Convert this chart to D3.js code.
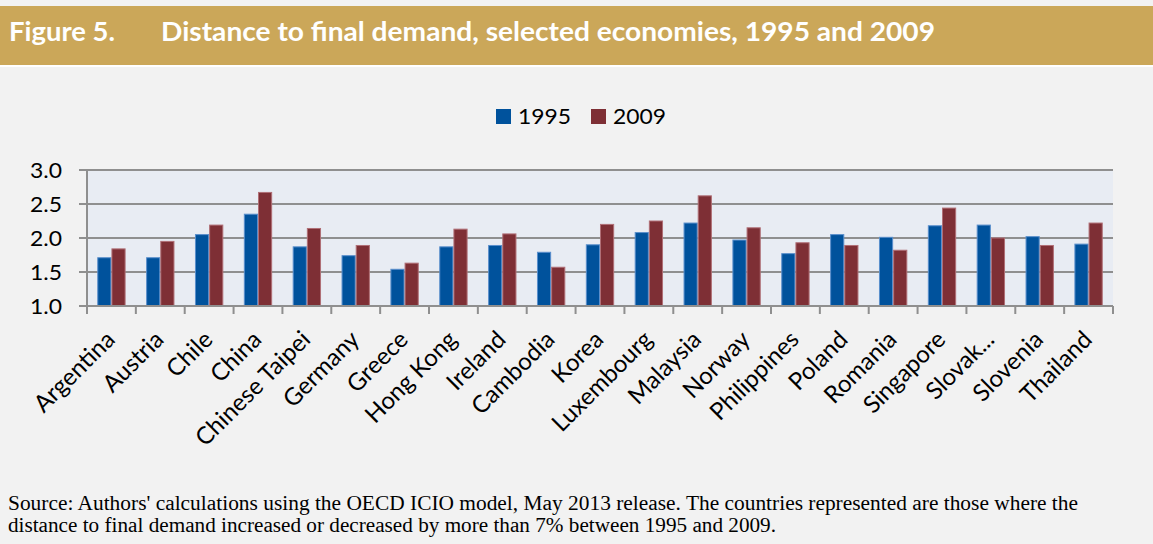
<!DOCTYPE html>
<html>
<head>
<meta charset="utf-8">
<script src="https://cdn.jsdelivr.net/npm/d3@7"></script>
<style>
  html, body { margin: 0; padding: 0; background: #f2f2f2; }
  svg { display: block; }
</style>
</head>
<body>
<div id="chart"></div>
<script>
// data
var economies = ['Argentina', 'Austria', 'Chile', 'China', 'Chinese Taipei', 'Germany', 'Greece',
    'Hong Kong', 'Ireland', 'Cambodia', 'Korea', 'Luxembourg', 'Malaysia', 'Norway',
    'Philippines', 'Poland', 'Romania', 'Singapore', 'Slovak...', 'Slovenia', 'Thailand'];
var years = ['1995', '2009'];
var values1995 = [1.71, 1.71, 2.05, 2.35, 1.87, 1.74, 1.54, 1.87, 1.89, 1.79, 1.90,
    2.08, 2.22, 1.97, 1.77, 2.05, 2.01, 2.18, 2.19, 2.02, 1.91];
var values2009 = [1.84, 1.95, 2.19, 2.67, 2.14, 1.89, 1.63, 2.13, 2.06, 1.57, 2.20,
    2.25, 2.62, 2.15, 1.93, 1.89, 1.82, 2.44, 2.00, 1.89, 2.22];
var yTicks = [1.0, 1.5, 2.0, 2.5, 3.0];

var title1 = 'Figure 5.';
var title2 = 'Distance to final demand, selected economies, 1995 and 2009';
var note1 = "Source: Authors' calculations using the OECD ICIO model, May 2013 release. The countries represented are those where the";
var note2 = 'distance to final demand increased or decreased by more than 7% between 1995 and 2009.';

var width = 1153;
var height = 544;

var plot_left = 87;
var plot_right = 1113;
var plot_top = 170;
var plot_bottom = 306;

var colors = ['#00529c', '#7e2f35'];
var strokes = ['#5a8fcc', '#b06f76'];
var sans = 'Lato, "Open Sans", sans-serif';

var svg = d3.select('#chart')
  .append('svg')
    .attr('width', width)
    .attr('height', height);

svg.append('rect')
    .attr('width', width)
    .attr('height', height)
    .attr('fill', '#f2f2f2');

// header band
svg.append('rect')
    .attr('x', 0)
    .attr('y', 6)
    .attr('width', width)
    .attr('height', 59)
    .attr('fill', '#cba759');
svg.append('rect')
    .attr('x', 0)
    .attr('y', 65)
    .attr('width', width)
    .attr('height', 2)
    .attr('fill', '#ffffff');

svg.append('text')
    .text(title1)
    .attr('x', 9)
    .attr('y', 41)
    .attr('fill', '#ffffff')
    .attr('font-family', sans)
    .attr('font-weight', 'bold')
    .attr('font-size', '27px')
    .attr('textLength', 106)
    .attr('lengthAdjust', 'spacingAndGlyphs');
svg.append('text')
    .text(title2)
    .attr('x', 161)
    .attr('y', 41)
    .attr('fill', '#ffffff')
    .attr('font-family', sans)
    .attr('font-weight', 'bold')
    .attr('font-size', '27px')
    .attr('textLength', 774)
    .attr('lengthAdjust', 'spacingAndGlyphs');

// scales
var x0 = d3.scaleBand()
    .domain(economies)
    .range([plot_left, plot_right])
    .paddingInner(0.42)
    .paddingOuter(0.21);
var x1 = d3.scaleBand()
    .domain(years)
    .range([0, x0.bandwidth()]);
var y = d3.scaleLinear()
    .domain([1, 3])
    .range([plot_bottom, plot_top]);
var step = (plot_right - plot_left) / economies.length;

// plot background
svg.append('rect')
    .attr('x', plot_left)
    .attr('y', plot_top)
    .attr('width', plot_right - plot_left)
    .attr('height', plot_bottom - plot_top)
    .attr('fill', '#e8ecf3');

// y grid lines
svg.append('g')
    .selectAll('line.y-grid')
    .data(yTicks)
  .enter()
    .append('line')
    .attr('stroke', '#8f8f8f')
    .attr('stroke-width', 2)
    .attr('x1', plot_left - 8)
    .attr('x2', plot_right)
    .attr('y1', function(d) { return y(d); })
    .attr('y2', function(d) { return y(d); });

// y labels
svg.append('g')
    .selectAll('text.y-grid')
    .data(yTicks)
  .enter()
    .append('text')
    .text(function(d) { return d.toFixed(1); })
    .attr('x', 62)
    .attr('y', function(d) { return y(d) + 7.5; })
    .attr('text-anchor', 'end')
    .attr('font-family', sans)
    .attr('font-size', '21px')
    .attr('textLength', 32)
    .attr('lengthAdjust', 'spacingAndGlyphs')
    .attr('fill', '#000000');

// bars
var seriesValues = [values1995, values2009];
var groups = svg.append('g')
    .selectAll('g')
    .data(economies)
  .enter()
    .append('g')
    .attr('transform', function(d) { return 'translate(' + x0(d) + ',0)'; });

groups.selectAll('rect')
    .data(function(d, i) {
        return years.map(function(yr, k) {
            return { year: yr, k: k, value: seriesValues[k][i] };
        });
    })
  .enter()
    .append('rect')
    .attr('x', function(d) { return x1(d.year) + 0.5; })
    .attr('y', function(d) { return y(d.value); })
    .attr('width', x1.bandwidth() - 1)
    .attr('height', function(d) { return y(1) - y(d.value); })
    .attr('fill', function(d) { return colors[d.k]; })
    .attr('stroke', function(d) { return strokes[d.k]; })
    .attr('stroke-width', 1);

// axes lines
svg.append('line')
    .attr('x1', plot_left)
    .attr('x2', plot_left)
    .attr('y1', plot_top)
    .attr('y2', plot_bottom + 8)
    .attr('stroke', '#8f8f8f')
    .attr('stroke-width', 2);
svg.append('line')
    .attr('x1', plot_left)
    .attr('x2', plot_right)
    .attr('y1', plot_bottom)
    .attr('y2', plot_bottom)
    .attr('stroke', '#8f8f8f')
    .attr('stroke-width', 2);

// x tick marks at category boundaries
svg.append('g')
    .selectAll('line.x-tick')
    .data(d3.range(economies.length + 1))
  .enter()
    .append('line')
    .attr('x1', function(d) { return plot_left + d * step; })
    .attr('x2', function(d) { return plot_left + d * step; })
    .attr('y1', plot_bottom)
    .attr('y2', plot_bottom + 8)
    .attr('stroke', '#8f8f8f')
    .attr('stroke-width', 2);

// x labels
svg.append('g')
    .selectAll('text.x-label')
    .data(economies)
  .enter()
    .append('text')
    .text(function(d) { return d; })
    .attr('text-anchor', 'end')
    .attr('font-family', sans)
    .attr('font-size', '24px')
    .attr('fill', '#000000')
    .attr('transform', function(d) {
        var cx = x0(d) + x0.bandwidth() / 2 + 5;
        return 'translate(' + cx + ',' + 341 + ') rotate(-45)';
    });

// legend
var legend = svg.append('g')
    .selectAll('g')
    .data(years)
  .enter()
    .append('g')
    .attr('transform', function(d, i) { return 'translate(' + (496 + i * 95) + ',109)'; });
legend.append('rect')
    .attr('width', 15)
    .attr('height', 15)
    .attr('fill', function(d, i) { return colors[i]; });
legend.append('text')
    .text(function(d) { return d; })
    .attr('x', 22)
    .attr('y', 15)
    .attr('font-family', sans)
    .attr('font-size', '22px')
    .attr('textLength', 53)
    .attr('lengthAdjust', 'spacingAndGlyphs')
    .attr('fill', '#000000');

// source note
var noteLengths = [1070, 768];
svg.append('g')
    .selectAll('text')
    .data([note1, note2])
  .enter()
    .append('text')
    .text(function(d) { return d; })
    .attr('x', 8)
    .attr('y', function(d, i) { return 510 + i * 22; })
    .attr('font-family', '"Liberation Serif", "Times New Roman", serif')
    .attr('font-size', '20px')
    .attr('textLength', function(d, i) { return noteLengths[i]; })
    .attr('lengthAdjust', 'spacingAndGlyphs')
    .attr('fill', '#000000');
</script>
</body>
</html>
